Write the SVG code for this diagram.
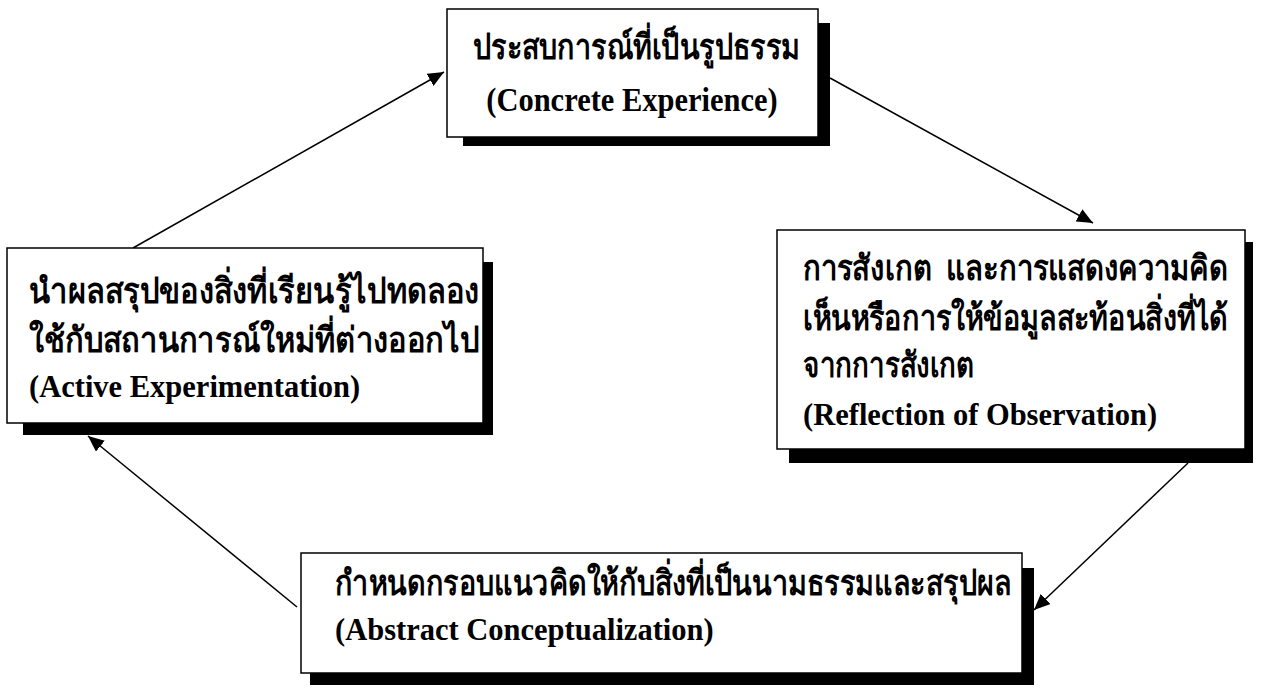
<svg xmlns="http://www.w3.org/2000/svg" width="1264" height="689" viewBox="0 0 1264 689">
  <style>
    .shadow { fill: #000; }
    .box { fill: #fff; stroke: #000; stroke-width: 1.5; }
    .th { font-family: "Liberation Serif", "Noto Sans", "DejaVu Sans", serif; font-weight: bold; font-size: 35px; fill: #000; }
    .en { font-family: "Liberation Serif", serif; font-weight: bold; font-size: 30.5px; fill: #000; }
    .conn { stroke: #000; stroke-width: 1.5; fill: none; marker-end: url(#arrow); }
  </style>
  <defs>
    <marker id="arrow" markerUnits="userSpaceOnUse" markerWidth="18" markerHeight="14" refX="16" refY="7" orient="auto">
      <path d="M0,0 L16,7 L0,14 z" fill="#000"/>
    </marker>
  </defs>
  <rect width="1264" height="689" fill="#fff"/>

  <g id="connectors">
    <line class="conn" x1="830" y1="78" x2="1093" y2="223"/>
    <line class="conn" x1="1188" y1="463" x2="1034" y2="610"/>
    <line class="conn" x1="297" y1="607" x2="88" y2="436"/>
    <line class="conn" x1="133" y1="248" x2="444" y2="72"/>
  </g>

  <g id="concrete-experience">
    <rect class="shadow" x="463" y="23" width="367" height="123"/>
    <rect class="box" x="447" y="9" width="371" height="128"/>
    <text class="th" x="473" y="59" textLength="327" lengthAdjust="spacingAndGlyphs">ประสบการณ์ที่เป็นรูปธรรม</text>
    <text class="en" transform="translate(632,111) scale(1,1.12)" x="0" y="0" text-anchor="middle">(Concrete Experience)</text>
  </g>

  <g id="reflection-of-observation">
    <rect class="shadow" x="789" y="242" width="464" height="221"/>
    <rect class="box" x="777" y="230" width="468" height="219"/>
    <text class="th" transform="translate(803,280) scale(0.85,1)" x="0" y="0" textLength="500" lengthAdjust="spacingAndGlyphs" xml:space="preserve">การสังเกต  และการแสดงความคิด</text>
    <text class="th" transform="translate(803,330) scale(0.85,1)" x="0" y="0" textLength="500" lengthAdjust="spacingAndGlyphs">เห็นหรือการให้ข้อมูลสะท้อนสิ่งที่ได้</text>
    <text class="th" x="803" y="377" textLength="171" lengthAdjust="spacingAndGlyphs">จากการสังเกต</text>
    <text class="en" x="803" y="425">(Reflection of Observation)</text>
  </g>

  <g id="abstract-conceptualization">
    <rect class="shadow" x="310" y="568" width="724" height="117"/>
    <rect class="box" x="301" y="553" width="721" height="120"/>
    <text class="th" x="335" y="595" textLength="676" lengthAdjust="spacingAndGlyphs">กำหนดกรอบแนวคิดให้กับสิ่งที่เป็นนามธรรมและสรุปผล</text>
    <text class="en" x="335" y="640">(Abstract Conceptualization)</text>
  </g>

  <g id="active-experimentation">
    <rect class="shadow" x="23" y="262" width="470" height="173"/>
    <rect class="box" x="7" y="248" width="476" height="175"/>
    <text class="th" x="29" y="303" textLength="450" lengthAdjust="spacingAndGlyphs">นำผลสรุปของสิ่งที่เรียนรู้ไปทดลอง</text>
    <text class="th" x="29" y="352" textLength="450" lengthAdjust="spacingAndGlyphs">ใช้กับสถานการณ์ใหม่ที่ต่างออกไป</text>
    <text class="en" x="29" y="397">(Active Experimentation)</text>
  </g>
</svg>
